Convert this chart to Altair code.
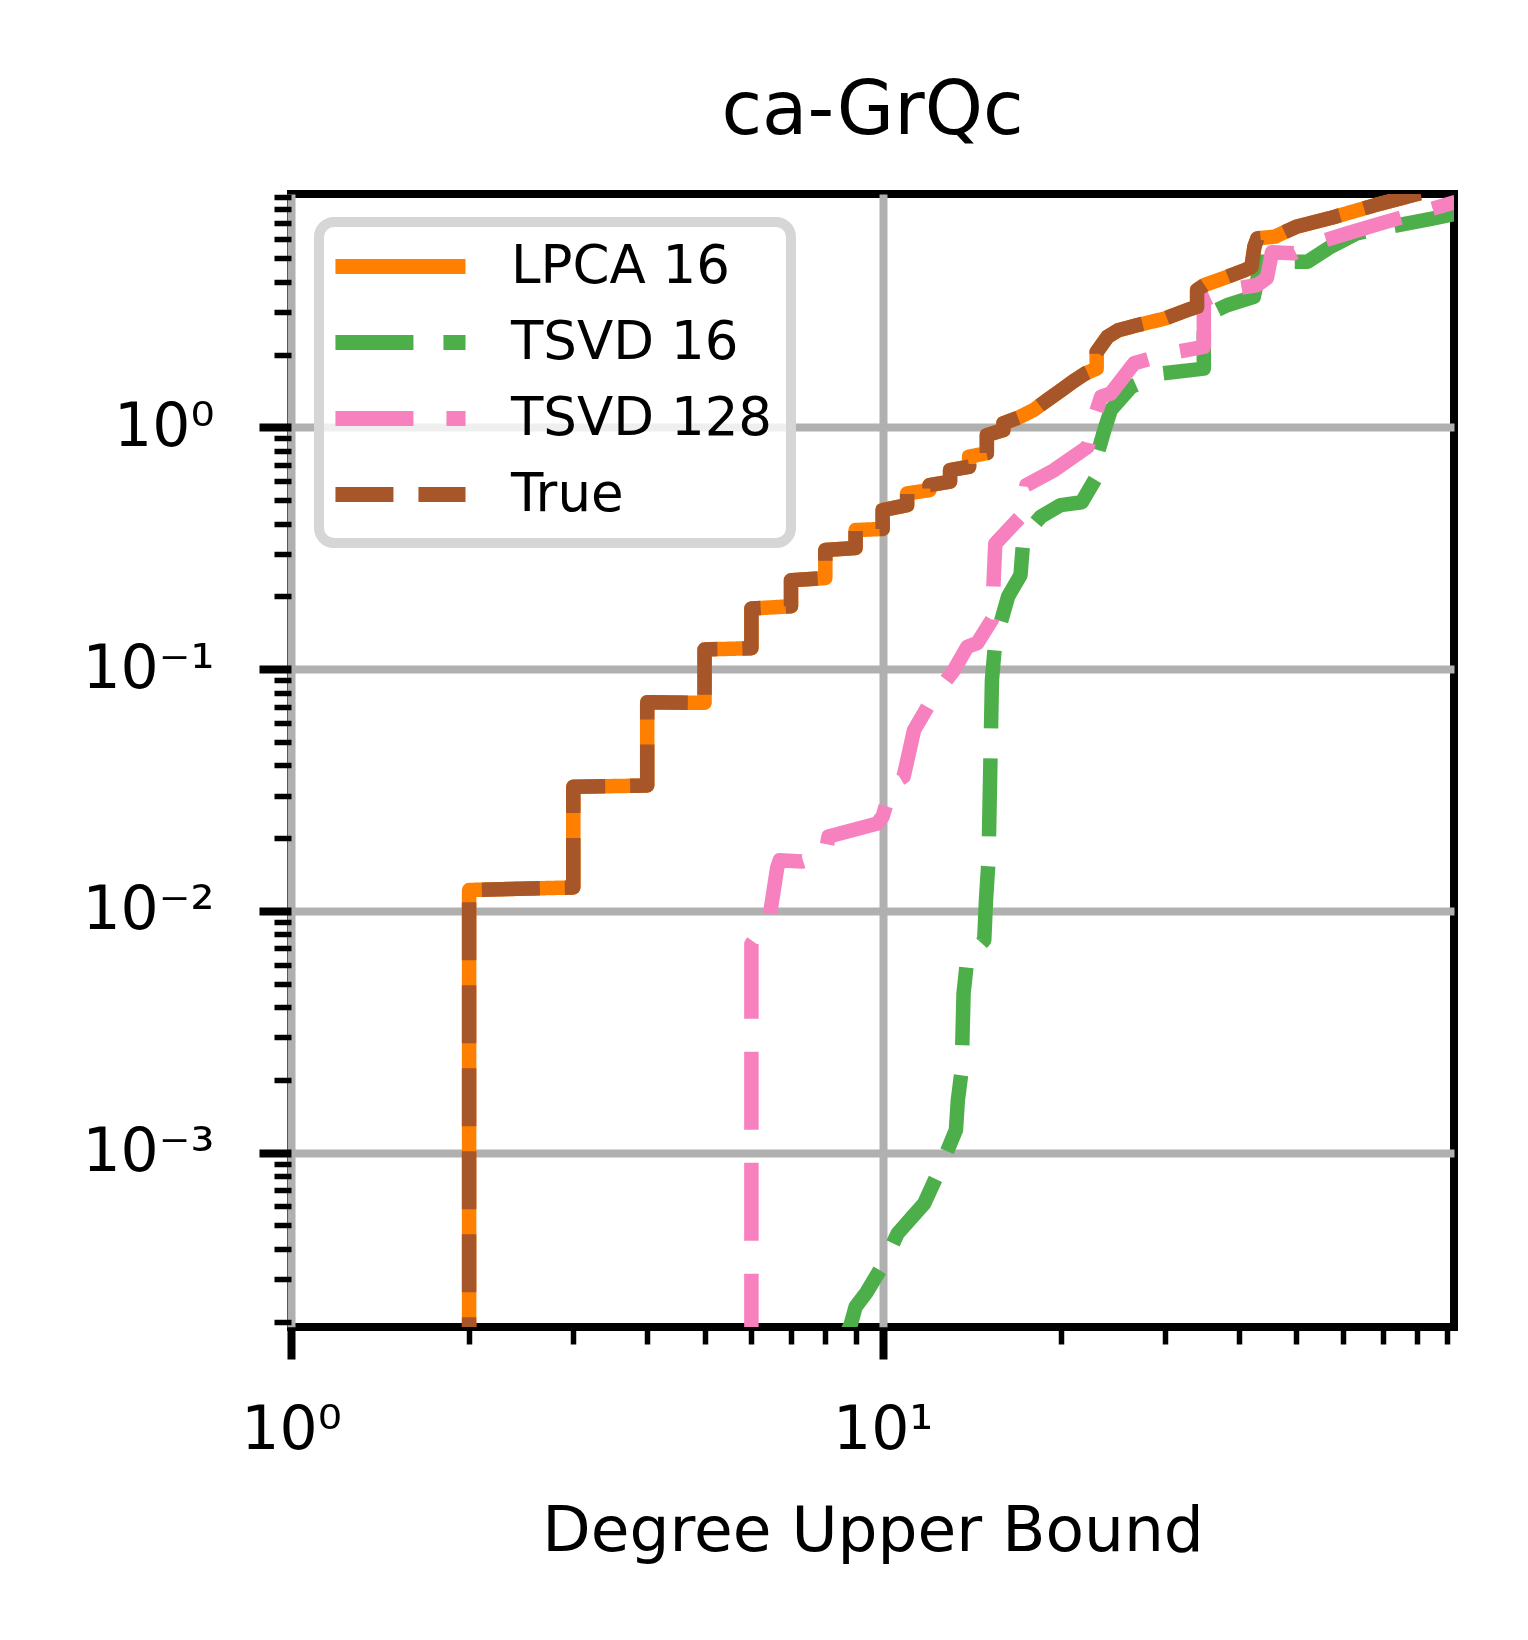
import altair as alt
import pandas as pd

# ---------------- data ----------------
SERIES = ["LPCA 16", "TSVD 16", "TSVD 128", "True"]
COLORS = ["#ff7f00", "#4daf4a", "#f781bf", "#a65628"]
DASHES = [[1, 0], [78, 30], [78, 33], [58, 25]]

TRUE_X = [2, 2, 3, 3, 4, 4, 5, 5, 6, 6, 7, 7, 8, 8, 9, 9, 10, 10, 11, 11,
          12, 12, 13, 13, 14, 14, 15, 15, 16, 16, 17, 18, 19, 20, 21, 22,
          23, 23, 24, 25, 27, 30, 33, 34, 34, 35, 38, 41, 42, 42.5, 43, 46,
          50, 58, 68, 81]
TRUE_Y = [1.2e-4, 0.0122, 0.0125, 0.0326, 0.0330, 0.0730, 0.0725, 0.1206,
          0.1220, 0.178, 0.182, 0.233, 0.238, 0.311, 0.317, 0.376, 0.380,
          0.455, 0.477, 0.533, 0.550, 0.577, 0.596, 0.666, 0.687, 0.756,
          0.783, 0.929, 0.975, 1.04, 1.10, 1.18, 1.30, 1.42, 1.55, 1.67,
          1.75, 2.05, 2.37, 2.52, 2.65, 2.82, 3.08, 3.15, 3.70, 3.88, 4.17,
          4.48, 4.60, 5.60, 6.05, 6.15, 6.75, 7.42, 8.30, 9.30]

LPCA_X = list(TRUE_X)
LPCA_Y = list(TRUE_Y)

TSVD16_X = [8.6, 8.84, 9.0, 9.4, 10.0, 10.6, 11.75, 12.4, 13.3, 13.4, 13.6,
            13.7, 13.9, 14.85, 14.95, 15.1, 15.3, 15.5, 16.3, 17.1, 17.3,
            18.5, 20.0, 21.7, 23.0, 23.0, 23.7, 24.3, 26.3, 29.6, 34.9, 34.9,
            38.2, 42.4, 43.6, 52.2, 57.3, 63.3, 84.9, 93.0]
TSVD16_Y = [1.7e-4, 1.96e-4, 2.3e-4, 2.65e-4, 3.42e-4, 4.63e-4, 6.15e-4,
            8.2e-4, 1.24e-3, 1.65e-3, 2.19e-3, 4.55e-3, 6.35e-3, 7.57e-3,
            0.0111, 0.0162, 0.090, 0.130, 0.200, 0.245, 0.353, 0.427, 0.477,
            0.490, 0.625, 0.756, 0.975, 1.18, 1.47, 1.67, 1.75, 2.87, 3.20,
            3.47, 4.84, 4.84, 5.60, 6.35, 7.30, 7.65]

TSVD128_X = [6.0, 6.0, 6.43, 6.63, 6.7, 7.3, 8.0, 8.1, 9.8, 10.0, 10.4,
             10.85, 11.3, 12.2, 13.2, 13.9, 14.45, 15.3, 15.5, 17.3, 17.5,
             19.5, 22.2, 22.8, 23.4, 24.3, 26.6, 30.3, 34.9, 34.9, 38.2, 43.0,
             44.6, 45.5, 49.5, 53.7, 61.1, 69.5, 93.0]
TSVD128_Y = [1.5e-4, 0.0073, 0.0092, 0.0150, 0.0162, 0.0160, 0.0172, 0.0203,
             0.0230, 0.0246, 0.0337, 0.0359, 0.0559, 0.0770, 0.0990, 0.1237,
             0.128, 0.160, 0.330, 0.440, 0.577, 0.666, 0.830, 1.10, 1.34,
             1.38, 1.84, 2.02, 2.15, 3.36, 3.70, 3.88, 4.14, 5.30, 5.25, 5.77,
             6.35, 6.98, 8.55]

X_DOMAIN = [1, 92.4]
Y_DOMAIN = [1.9e-4, 9.23]
X_MAJOR = [1, 10]
X_MINOR = [2, 3, 4, 5, 6, 7, 8, 9, 20, 30, 40, 50, 60, 70, 80, 90]
Y_MAJOR = [0.001, 0.01, 0.1, 1]
Y_MINOR = [2e-4, 3e-4, 4e-4, 5e-4, 6e-4, 7e-4, 8e-4, 9e-4,
           2e-3, 3e-3, 4e-3, 5e-3, 6e-3, 7e-3, 8e-3, 9e-3,
           0.02, 0.03, 0.04, 0.05, 0.06, 0.07, 0.08, 0.09,
           0.2, 0.3, 0.4, 0.5, 0.6, 0.7, 0.8, 0.9,
           2, 3, 4, 5, 6, 7, 8, 9]

# ---------------- table ----------------
rows = []
for name, xs, ys in [("LPCA 16", LPCA_X, LPCA_Y),
                     ("TSVD 16", TSVD16_X, TSVD16_Y),
                     ("TSVD 128", TSVD128_X, TSVD128_Y),
                     ("True", TRUE_X, TRUE_Y)]:
    for i, (xv, yv) in enumerate(zip(xs, ys)):
        rows.append({"series": name, "x": xv, "y": yv, "i": i})
df = pd.DataFrame(rows)

FONT = "DejaVu Sans"

xscale = alt.Scale(type="log", domain=X_DOMAIN, nice=False)
yscale = alt.Scale(type="log", domain=Y_DOMAIN, nice=False)
color_scale = alt.Scale(domain=SERIES, range=COLORS)
dash_scale = alt.Scale(domain=SERIES, range=DASHES)

x_label_expr = "datum.value < 2 ? '10⁰' : '10¹'"
y_label_expr = ("datum.value < 0.002 ? '10⁻³' : datum.value < 0.02 ? '10⁻²' : "
                "datum.value < 0.2 ? '10⁻¹' : '10⁰'")

x_major = alt.Axis(values=X_MAJOR, orient="bottom", tickSize=32, tickWidth=8,
                   tickColor="black", domain=False, grid=True,
                   gridColor="#b0b0b0", gridWidth=8, labelExpr=x_label_expr,
                   labelFont=FONT, labelFontSize=60, labelColor="black",
                   labelPadding=42, labelFlush=False, labelOverlap=False,
                   title="Degree Upper Bound", titleFont=FONT,
                   titleFontSize=63, titleFontWeight="normal",
                   titleColor="black", titlePadding=40)
y_major = alt.Axis(values=Y_MAJOR, orient="left", tickSize=32, tickWidth=8,
                   tickColor="black", domain=False, grid=True,
                   gridColor="#b0b0b0", gridWidth=8, labelExpr=y_label_expr,
                   labelFont=FONT, labelFontSize=60, labelColor="black",
                   labelPadding=45, labelFlush=False, labelOverlap=False,
                   title=None, minExtent=200, maxExtent=200)
x_minor = alt.Axis(values=X_MINOR, orient="bottom", tickSize=17,
                   tickWidth=5.5, tickColor="black", domain=False, grid=False,
                   labels=False, title=None)
y_minor = alt.Axis(values=Y_MINOR, orient="left", tickSize=17, tickWidth=5.5,
                   tickColor="black", domain=False, grid=False, labels=False,
                   title=None, minExtent=200, maxExtent=200)

legend = alt.Legend(
    title=None, orient="top-left", offset=28,
    symbolType="M-1.87,0L6.8,0", symbolSize=900, symbolStrokeWidth=15,
    labelFont=FONT, labelFontSize=53, labelColor="black", labelOffset=121,
    rowPadding=15, labelLimit=700,
)


def series_layer(name, first=False):
    enc = dict(
        x=alt.X("x:Q", scale=xscale, axis=x_major if first else None),
        y=alt.Y("y:Q", scale=yscale, axis=y_major if first else None),
        color=alt.Color("series:N", scale=color_scale,
                        legend=legend if first else None),
        strokeDash=alt.StrokeDash("series:N", scale=dash_scale,
                                  legend=legend if first else None),
        order=alt.Order("i:Q"),
    )
    return (alt.Chart(df)
            .transform_filter(alt.datum.series == name)
            .mark_line(clip=True, strokeWidth=14.5, strokeJoin="round")
            .encode(**enc))


minor_layer = alt.Chart(df).mark_point(opacity=0, clip=True).encode(
    x=alt.X("x:Q", scale=xscale, axis=x_minor),
    y=alt.Y("y:Q", scale=yscale, axis=y_minor),
)

chart = alt.layer(
    series_layer("LPCA 16", first=True),
    series_layer("TSVD 16"),
    series_layer("TSVD 128"),
    series_layer("True"),
    minor_layer,
).resolve_axis(x="independent", y="independent").properties(
    width=1163, height=1133,
    title=alt.TitleParams("ca-GrQc", font=FONT, fontSize=74,
                          fontWeight="normal", color="black", offset=44,
                          anchor="middle"),
    padding={"left": 73, "top": 67, "right": 10, "bottom": 10},
).configure_view(
    stroke="black", strokeWidth=8
).configure_legend(
    strokeColor="#d6d6d6", strokeWidth=10, fillColor="rgba(255,255,255,0.8)",
    cornerRadius=15, padding=18
)

chart.save("out.html", embed_options={"renderer": "svg", "actions": False})
